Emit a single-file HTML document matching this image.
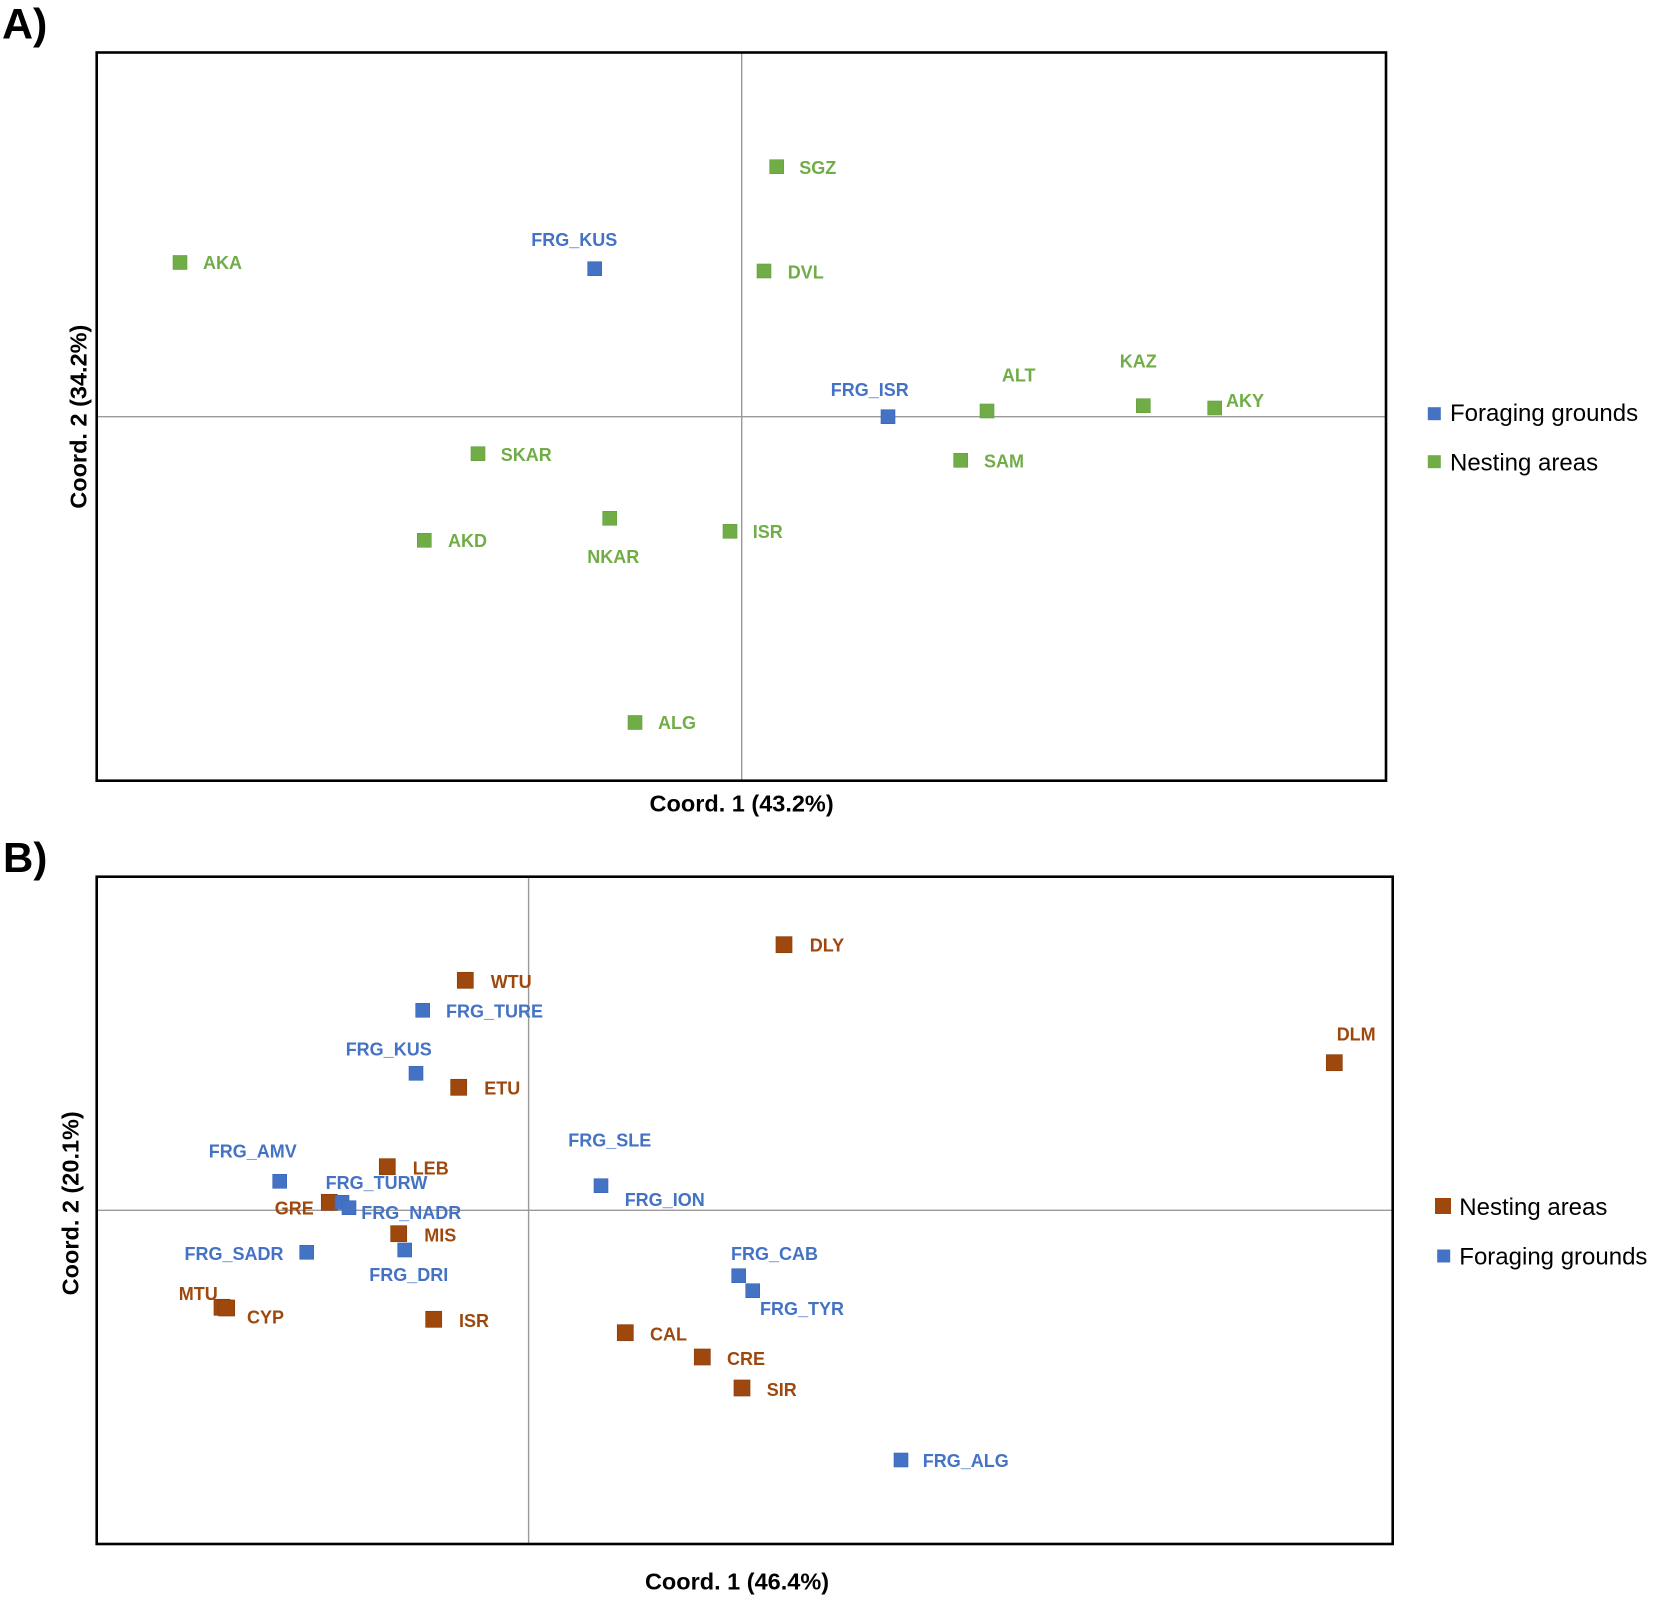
<!DOCTYPE html>
<html>
<head>
<meta charset="utf-8">
<style>
  html, body { margin: 0; padding: 0; background: #ffffff; }
  svg { display: block; }
  .lbl { font-family: "Liberation Sans", Arial, sans-serif; font-weight: bold; font-size: 18px; }
  .g { fill: #70AD47; }
  .b { fill: #4472C4; }
  .r { fill: #9E480E; }
  .leg { font-family: "Liberation Sans", Arial, sans-serif; font-size: 24px; fill: #000; }
  .ttl { font-family: "Liberation Sans", Arial, sans-serif; font-weight: bold; font-size: 23.5px; fill: #000; }
  .pan { font-family: "Liberation Sans", Arial, sans-serif; font-weight: bold; fill: #000; }
</style>
</head>
<body>
<svg width="1654" height="1597" viewBox="0 0 1654 1597" xmlns="http://www.w3.org/2000/svg">
  <rect x="0" y="0" width="1654" height="1597" fill="#ffffff"/>

  <!-- ================= PANEL A ================= -->
  <text class="pan" x="2" y="38.5" font-size="43">A)</text>

  <!-- axes -->
  <line x1="741.7" y1="52.5" x2="741.7" y2="780.7" stroke="#9a9a9a" stroke-width="1.4"/>
  <line x1="96.7" y1="416.7" x2="1386" y2="416.7" stroke="#9a9a9a" stroke-width="1.4"/>
  <rect x="96.7" y="52.5" width="1289.3" height="728.2" fill="none" stroke="#000" stroke-width="2.6"/>

  <!-- green markers (14px) -->
  <g fill="#70AD47" stroke="#64a03c" stroke-width="0.6">
    <rect x="173" y="255.5" width="14" height="14"/>
    <rect x="769.7" y="159.7" width="14" height="14"/>
    <rect x="757" y="264" width="14" height="14"/>
    <rect x="980" y="404" width="14" height="14"/>
    <rect x="1136.3" y="398.7" width="14" height="14"/>
    <rect x="1207.7" y="401" width="14" height="14"/>
    <rect x="471" y="446.7" width="14" height="14"/>
    <rect x="953.7" y="453.3" width="14" height="14"/>
    <rect x="602.7" y="511.3" width="14" height="14"/>
    <rect x="417.3" y="533.3" width="14" height="14"/>
    <rect x="723" y="524.3" width="14" height="14"/>
    <rect x="628" y="715.5" width="14" height="14"/>
  </g>
  <!-- blue markers -->
  <g fill="#4472C4" stroke="#3a66b8" stroke-width="0.6">
    <rect x="587.7" y="261.7" width="14" height="14"/>
    <rect x="881" y="409.7" width="14" height="14"/>
  </g>

  <!-- labels A -->
  <g class="lbl">
    <text class="g" x="203" y="269.2">AKA</text>
    <text class="g" x="799.3" y="173.8">SGZ</text>
    <text class="g" x="787.7" y="278.5">DVL</text>
    <text class="g" x="1018.7" y="381.5" text-anchor="middle">ALT</text>
    <text class="g" x="1138.3" y="367.5" text-anchor="middle">KAZ</text>
    <text class="g" x="1226" y="407.2">AKY</text>
    <text class="g" x="500.7" y="461.2">SKAR</text>
    <text class="g" x="984" y="467.5">SAM</text>
    <text class="g" x="613.3" y="563.2" text-anchor="middle">NKAR</text>
    <text class="g" x="448" y="546.8">AKD</text>
    <text class="g" x="752.7" y="538.2">ISR</text>
    <text class="g" x="658" y="729">ALG</text>
    <text class="b" x="574.3" y="245.8" text-anchor="middle">FRG_KUS</text>
    <text class="b" x="869.8" y="395.8" text-anchor="middle">FRG_ISR</text>
  </g>

  <!-- legend A -->
  <rect x="1427.8" y="407.2" width="13" height="13" fill="#4472C4"/>
  <text class="leg" x="1450" y="421">Foraging grounds</text>
  <rect x="1427.8" y="455.2" width="13" height="13" fill="#70AD47"/>
  <text class="leg" x="1450" y="470.7">Nesting areas</text>

  <!-- axis titles A -->
  <text class="ttl" x="741.6" y="811.5" text-anchor="middle">Coord. 1 (43.2%)</text>
  <text class="ttl" transform="translate(86.5,416.7) rotate(-90)" x="0" y="0" text-anchor="middle">Coord. 2 (34.2%)</text>

  <!-- ================= PANEL B ================= -->
  <text class="pan" x="3" y="872" font-size="42">B)</text>

  <line x1="528.6" y1="876.7" x2="528.6" y2="1544" stroke="#9a9a9a" stroke-width="1.4"/>
  <line x1="96.7" y1="1210.3" x2="1392.7" y2="1210.3" stroke="#9a9a9a" stroke-width="1.4"/>
  <rect x="96.7" y="876.7" width="1296" height="667.3" fill="none" stroke="#000" stroke-width="2.6"/>

  <!-- brown markers (16px) -->
  <g fill="#9E480E" stroke="#8a3f0d" stroke-width="0.7">
    <rect x="776" y="936.7" width="16" height="16"/>
    <rect x="457.3" y="972.3" width="16" height="16"/>
    <rect x="1326.3" y="1054.7" width="16" height="16"/>
    <rect x="450.7" y="1079.3" width="16" height="16"/>
    <rect x="379.3" y="1158.7" width="16" height="16"/>
    <rect x="321.3" y="1194.3" width="16" height="16"/>
    <rect x="390.7" y="1225.7" width="16" height="16"/>
    <rect x="214" y="1299.3" width="16" height="16"/>
    <rect x="218.7" y="1300" width="16" height="16"/>
    <rect x="425.7" y="1311.3" width="16" height="16"/>
    <rect x="617.3" y="1324.7" width="16" height="16"/>
    <rect x="694.3" y="1349" width="16" height="16"/>
    <rect x="734" y="1380" width="16" height="16"/>
  </g>
  <!-- blue markers (14px) -->
  <g fill="#4472C4" stroke="#3a66b8" stroke-width="0.6">
    <rect x="415.7" y="1003.3" width="14" height="14"/>
    <rect x="409" y="1066.3" width="14" height="14"/>
    <rect x="272.7" y="1174.3" width="14" height="14"/>
    <rect x="335" y="1195.3" width="14" height="14"/>
    <rect x="342" y="1200.7" width="14" height="14"/>
    <rect x="299.7" y="1245.3" width="14" height="14"/>
    <rect x="397.7" y="1243" width="14" height="14"/>
    <rect x="594" y="1178.7" width="14" height="14"/>
    <rect x="731.7" y="1268.7" width="14" height="14"/>
    <rect x="745.7" y="1283.7" width="14" height="14"/>
    <rect x="894" y="1453" width="14" height="14"/>
  </g>

  <!-- labels B -->
  <g class="lbl">
    <text class="r" x="809.8" y="951.5">DLY</text>
    <text class="r" x="490.7" y="988.2">WTU</text>
    <text class="r" x="1356.2" y="1040.5" text-anchor="middle">DLM</text>
    <text class="r" x="484.3" y="1094.5">ETU</text>
    <text class="r" x="412.7" y="1174.5">LEB</text>
    <text class="r" x="294.3" y="1214.5" text-anchor="middle">GRE</text>
    <text class="r" x="424.3" y="1241.5">MIS</text>
    <text class="r" x="198.3" y="1299.8" text-anchor="middle">MTU</text>
    <text class="r" x="247" y="1323.5">CYP</text>
    <text class="r" x="459" y="1327.2">ISR</text>
    <text class="r" x="650" y="1340.5">CAL</text>
    <text class="r" x="727" y="1364.8">CRE</text>
    <text class="r" x="766.7" y="1395.8">SIR</text>

    <text class="b" x="446" y="1017.5">FRG_TURE</text>
    <text class="b" x="388.7" y="1055.5" text-anchor="middle">FRG_KUS</text>
    <text class="b" x="252.8" y="1157.5" text-anchor="middle">FRG_AMV</text>
    <text class="b" x="376.5" y="1188.8" text-anchor="middle">FRG_TURW</text>
    <text class="b" x="411.3" y="1218.8" text-anchor="middle">FRG_NADR</text>
    <text class="b" x="234" y="1260.2" text-anchor="middle">FRG_SADR</text>
    <text class="b" x="408.8" y="1280.8" text-anchor="middle">FRG_DRI</text>
    <text class="b" x="609.8" y="1146.5" text-anchor="middle">FRG_SLE</text>
    <text class="b" x="664.7" y="1205.8" text-anchor="middle">FRG_ION</text>
    <text class="b" x="774.5" y="1260.2" text-anchor="middle">FRG_CAB</text>
    <text class="b" x="802" y="1315.2" text-anchor="middle">FRG_TYR</text>
    <text class="b" x="965.8" y="1467.2" text-anchor="middle">FRG_ALG</text>
  </g>

  <!-- legend B -->
  <rect x="1435" y="1198" width="16" height="16" fill="#9E480E"/>
  <text class="leg" x="1459.3" y="1215">Nesting areas</text>
  <rect x="1437.2" y="1249.5" width="13" height="13" fill="#4472C4"/>
  <text class="leg" x="1459.3" y="1264.5">Foraging grounds</text>

  <!-- axis titles B -->
  <text class="ttl" x="737" y="1589.5" text-anchor="middle">Coord. 1 (46.4%)</text>
  <text class="ttl" transform="translate(78.5,1203.3) rotate(-90)" x="0" y="0" text-anchor="middle">Coord. 2 (20.1%)</text>
</svg>
</body>
</html>
